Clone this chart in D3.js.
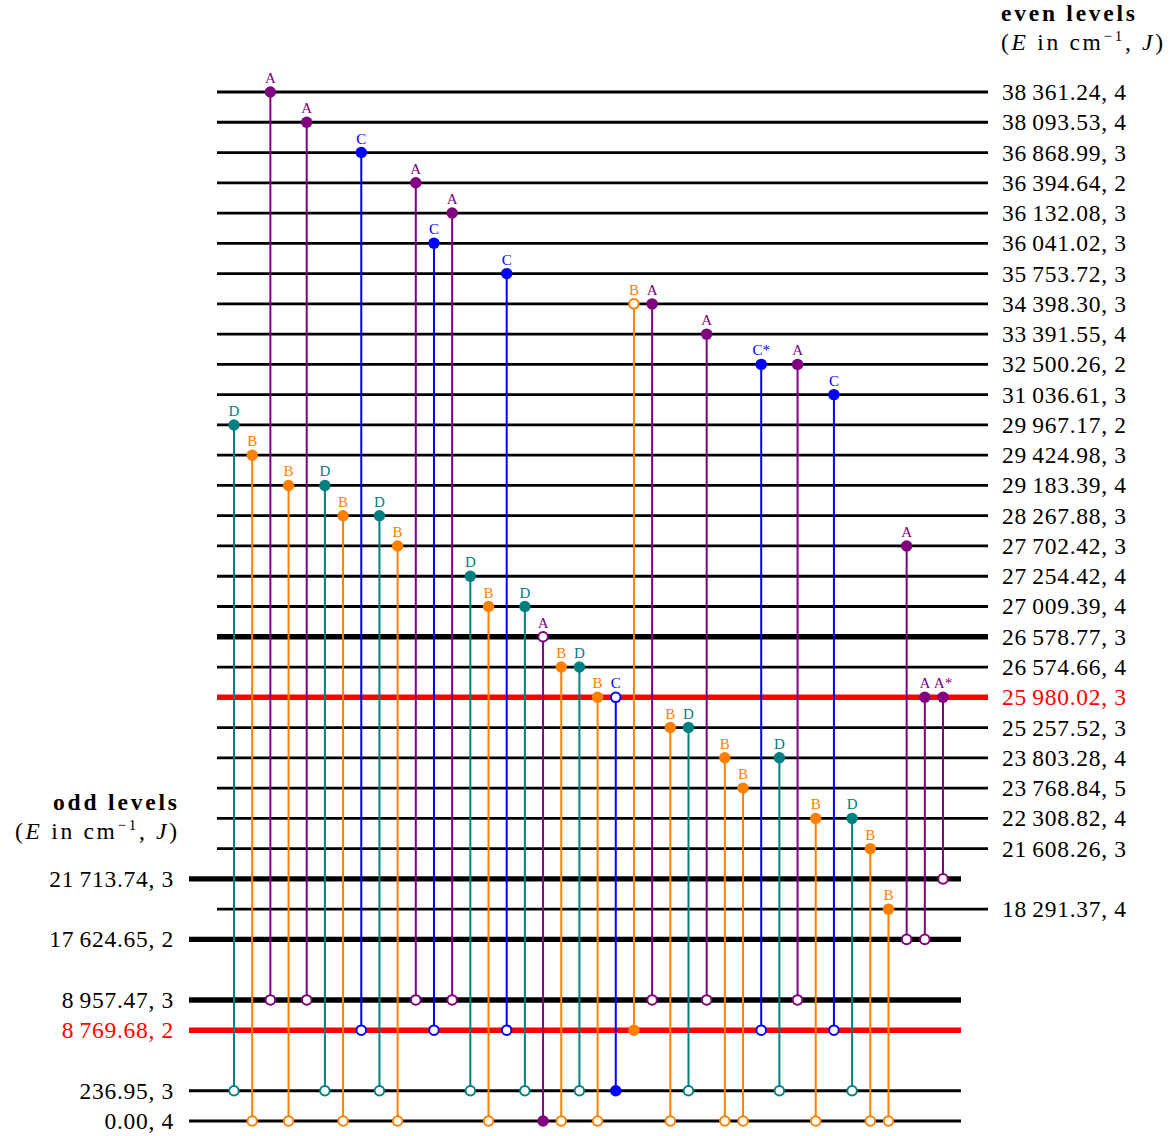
<!DOCTYPE html>
<html>
<head>
<meta charset="utf-8">
<script src="https://cdn.jsdelivr.net/npm/d3@7"></script>
<style>
  body { margin: 0; background: #fff; }
  svg text { font-family: "Liberation Serif", "DejaVu Serif", serif; }
</style>
</head>
<body>
<script>
// even-parity levels (energy, J, style)
var evenLevels = [
  ["38361.24", 4, "thin"], ["38093.53", 4, "thin"], ["36868.99", 3, "thin"],
  ["36394.64", 2, "thin"], ["36132.08", 3, "thin"], ["36041.02", 3, "thin"],
  ["35753.72", 3, "thin"], ["34398.30", 3, "thin"], ["33391.55", 4, "thin"],
  ["32500.26", 2, "thin"], ["31036.61", 3, "thin"], ["29967.17", 2, "thin"],
  ["29424.98", 3, "thin"], ["29183.39", 4, "thin"], ["28267.88", 3, "thin"],
  ["27702.42", 3, "thin"], ["27254.42", 4, "thin"], ["27009.39", 4, "thin"],
  ["26578.77", 3, "thick"], ["26574.66", 4, "thin"], ["25980.02", 3, "red"],
  ["25257.52", 3, "thin"], ["23803.28", 4, "thin"], ["23768.84", 5, "thin"],
  ["22308.82", 4, "thin"], ["21608.26", 3, "thin"], ["18291.37", 4, "thin"]
];
// odd-parity levels
var oddLevels = [
  ["21713.74", 3, "thick"], ["17624.65", 2, "thick"], ["8957.47", 3, "thick"],
  ["8769.68", 2, "red"], ["236.95", 3, "thin"], ["0.00", 4, "thin"]
];
// vertical slot order of the diagram ("-" = empty slot)
var rowOrder = [
  "38361.24", "38093.53", "36868.99", "36394.64", "36132.08", "36041.02",
  "35753.72", "34398.30", "33391.55", "32500.26", "31036.61", "29967.17",
  "29424.98", "29183.39", "28267.88", "27702.42", "27254.42", "27009.39",
  "26578.77", "26574.66", "25980.02", "25257.52", "23803.28", "23768.84",
  "22308.82", "21608.26", "21713.74", "18291.37", "17624.65", "-1",
  "8957.47", "8769.68", "-2", "236.95", "0.00"
];
// transitions: upper (even), lower (odd), label, type, which end is open
var transitions = [
  ["29967.17", "236.95", "D", "D", "low"], ["29424.98", "0.00", "B", "B", "low"],
  ["38361.24", "8957.47", "A", "A", "low"], ["29183.39", "0.00", "B", "B", "low"],
  ["38093.53", "8957.47", "A", "A", "low"], ["29183.39", "236.95", "D", "D", "low"],
  ["28267.88", "0.00", "B", "B", "low"], ["36868.99", "8769.68", "C", "C", "low"],
  ["28267.88", "236.95", "D", "D", "low"], ["27702.42", "0.00", "B", "B", "low"],
  ["36394.64", "8957.47", "A", "A", "low"], ["36041.02", "8769.68", "C", "C", "low"],
  ["36132.08", "8957.47", "A", "A", "low"], ["27254.42", "236.95", "D", "D", "low"],
  ["27009.39", "0.00", "B", "B", "low"], ["35753.72", "8769.68", "C", "C", "low"],
  ["27009.39", "236.95", "D", "D", "low"], ["26578.77", "0.00", "A", "A", "up"],
  ["26574.66", "0.00", "B", "B", "low"], ["26574.66", "236.95", "D", "D", "low"],
  ["25980.02", "0.00", "B", "B", "low"], ["25980.02", "236.95", "C", "C", "up"],
  ["34398.30", "8769.68", "B", "B", "up"], ["34398.30", "8957.47", "A", "A", "low"],
  ["25257.52", "0.00", "B", "B", "low"], ["25257.52", "236.95", "D", "D", "low"],
  ["33391.55", "8957.47", "A", "A", "low"], ["23803.28", "0.00", "B", "B", "low"],
  ["23768.84", "0.00", "B", "B", "low"], ["32500.26", "8769.68", "C*", "C", "low"],
  ["23803.28", "236.95", "D", "D", "low"], ["32500.26", "8957.47", "A", "A", "low"],
  ["22308.82", "0.00", "B", "B", "low"], ["31036.61", "8769.68", "C", "C", "low"],
  ["22308.82", "236.95", "D", "D", "low"], ["21608.26", "0.00", "B", "B", "low"],
  ["18291.37", "0.00", "B", "B", "low"], ["27702.42", "17624.65", "A", "A", "low"],
  ["25980.02", "17624.65", "A", "A", "low"], ["25980.02", "21713.74", "A*", "A", "low"]
];

var typeColor = { A: "#800080", B: "#ff8000", C: "#0000ff", D: "#008080" };
var lineWidth = { thin: 2.8, thick: 5.4, red: 5.4 };

var width = 1174, height = 1136;
var svg = d3.select("body").append("svg")
  .attr("width", width).attr("height", height);

var y = d3.scalePoint().domain(rowOrder).range([92, 1121]);
var x = d3.scalePoint().domain(d3.range(transitions.length)).range([234, 943]);

function fmt(e) {
  var parts = e.split(".");
  var ip = parts[0];
  if (ip.length > 3) ip = ip.slice(0, ip.length - 3) + "\u2009" + ip.slice(ip.length - 3);
  return ip + "." + parts[1];
}

// horizontal level lines
function drawLevels(levels, x1, x2, labelX, anchor) {
  var g = svg.append("g");
  g.selectAll("line").data(levels).enter().append("line")
    .attr("x1", x1).attr("x2", x2)
    .attr("y1", function(d) { return y(d[0]); })
    .attr("y2", function(d) { return y(d[0]); })
    .attr("stroke", function(d) { return d[2] === "red" ? "#ff0000" : "#000"; })
    .attr("stroke-width", function(d) { return lineWidth[d[2]]; });
  g.selectAll("text").data(levels).enter().append("text")
    .attr("x", labelX)
    .attr("y", function(d) { return y(d[0]); })
    .attr("dy", "0.34em")
    .attr("text-anchor", anchor)
    .attr("font-size", 23.5)
    .attr("letter-spacing", 0.7)
    .attr("fill", function(d) { return d[2] === "red" ? "#ff0000" : "#000"; })
    .text(function(d) { return fmt(d[0]) + ", " + d[1]; });
}
drawLevels(evenLevels, 217, 988, 1002, "start");
drawLevels(oddLevels, 189, 961, 174, "end");

// transitions
var tg = svg.append("g");
var cols = tg.selectAll("g").data(transitions).enter().append("g");
cols.append("line")
  .attr("x1", function(d, i) { return x(i); })
  .attr("x2", function(d, i) { return x(i); })
  .attr("y1", function(d) { return y(d[0]); })
  .attr("y2", function(d) { return y(d[1]); })
  .attr("stroke", function(d) { return typeColor[d[3]]; })
  .attr("stroke-width", 2);
function marker(end) {
  cols.append("circle")
    .attr("cx", function(d, i) { return x(i); })
    .attr("cy", function(d) { return y(end === "up" ? d[0] : d[1]); })
    .attr("r", function(d) { return d[4] === end ? 4.8 : 5.7; })
    .attr("fill", function(d) { return d[4] === end ? "#fff" : typeColor[d[3]]; })
    .attr("stroke", function(d) { return typeColor[d[3]]; })
    .attr("stroke-width", function(d) { return d[4] === end ? 2 : 0; });
}
marker("up");
marker("low");
cols.append("text")
  .attr("x", function(d, i) { return x(i); })
  .attr("y", function(d) { return y(d[0]) - 9; })
  .attr("text-anchor", "middle")
  .attr("font-size", 15)
  .attr("fill", function(d) { return typeColor[d[3]]; })
  .text(function(d) { return d[2]; });

// headers
function header(xp, yp, anchor, title, len1, len2) {
  svg.append("text").attr("x", xp).attr("y", yp)
    .attr("text-anchor", anchor).attr("font-size", 23.5).attr("font-weight", "bold")
    .attr("textLength", len1).attr("lengthAdjust", "spacing")
    .text(title);
  var s = svg.append("text").attr("x", xp).attr("y", yp + 29)
    .attr("text-anchor", anchor).attr("font-size", 23.5)
    .attr("textLength", len2).attr("lengthAdjust", "spacing");
  s.append("tspan").text("(");
  s.append("tspan").attr("font-style", "italic").text("E");
  s.append("tspan").text(" in cm");
  s.append("tspan").attr("dy", -9).attr("font-size", 15).text("\u22121");
  s.append("tspan").attr("dy", 9).text(", ");
  s.append("tspan").attr("font-style", "italic").text("J");
  s.append("tspan").text(")");
}
header(1001, 21, "start", "even levels", 134, 162);
header(177, 810, "end", "odd levels", 124, 162);
</script>
</body>
</html>
